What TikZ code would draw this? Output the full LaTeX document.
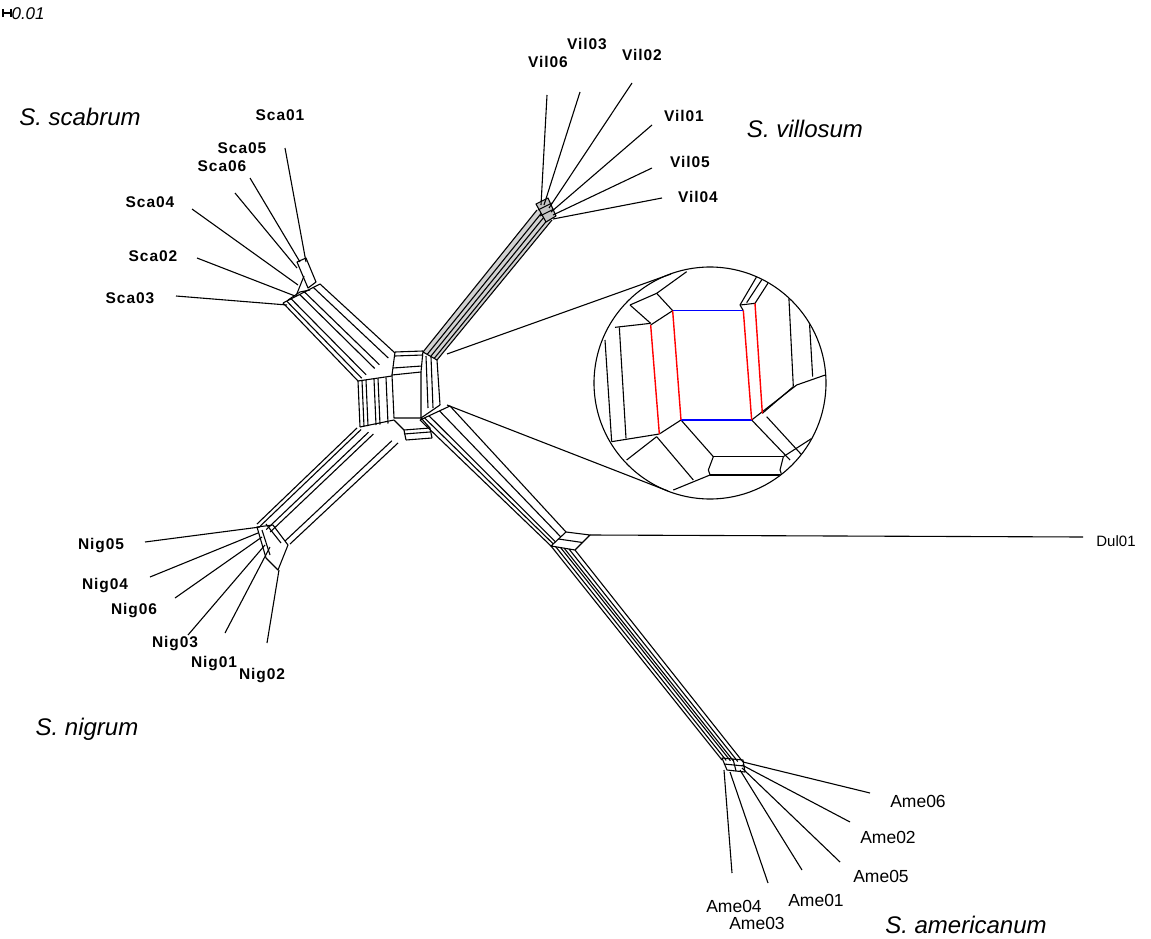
\documentclass[tikz,border=0pt]{standalone}
\usepackage{fontspec}
\setmainfont{Liberation Sans}
\usetikzlibrary{calc}
\newcommand\netband[5]{\foreach \t in {#5} {\draw ($(#1)!\t!(#2)$) -- ($(#3)!\t!(#4)$);}}
\begin{document}
\begin{tikzpicture}[x=1pt,y=-1pt,line width=1.1pt,line join=round,
  lf/.style={font=\fontsize{15.5}{16}\selectfont\bfseries\addfontfeatures{LetterSpace=6}, inner sep=0pt},
  lfa/.style={font=\fontsize{17.5}{18}\selectfont, inner sep=0pt},
  sp/.style={font=\fontsize{24}{26}\selectfont\itshape, inner sep=0pt},
  bluel/.style={draw=blue, line width=1.4pt},
  redl/.style={draw=red, line width=1.4pt},
]
\useasboundingbox (0,0) rectangle (1151,939);

% scale bar
\coordinate (sb1) at (3,13); \coordinate (sb2) at (11,13);
\draw[line width=1.4pt] (sb1) -- (sb2); \draw ($(sb1)+(0,-4)$) -- ($(sb1)+(0,4)$); \draw ($(sb2)+(0,-4)$) -- ($(sb2)+(0,4)$);
\node[font=\fontsize{17}{18}\selectfont\itshape, anchor=west, inner sep=0pt] (scale) at (11,14) {0.01};

% species names
\node[sp] (sscab) at (80,117) {S. scabrum};
\node[sp] (svil) at (805,129) {S. villosum};
\node[sp] (snig) at (87,729) {S. nigrum};
\node[sp] (same) at (966,925) {S. americanum};

% ---------- bands ----------
% scabrum band
\coordinate (scs1) at (283,303); \coordinate (scs2) at (320,284);
\coordinate (sce1) at (358,381); \coordinate (sce2) at (395,353);
\netband{scs1}{scs2}{sce1}{sce2}{0,0.1,0.22,0.45,0.58,0.82,1}
\draw (scs1) -- (scs2);

% villosum band
\coordinate (vis1) at (537,210); \coordinate (vis2) at (552,220);
\coordinate (vie1) at (423,352); \coordinate (vie2) at (437,360);
\fill[gray!35] (vis1) -- (vis2) -- (vie2) -- (vie1) -- cycle;
\netband{vis1}{vis2}{vie1}{vie2}{0,0.3,0.55,0.8,1}

% nigrum band
\coordinate (nis1) at (257,524); \coordinate (nis2) at (290,544);
\coordinate (nie1) at (357,428); \coordinate (nie2) at (398,443);
\netband{nis1}{nis2}{nie1}{nie2}{0,0.1,0.28,0.4,0.85,1}

% americanum band (centre to Dul junction)
\coordinate (am1s1) at (420,420); \coordinate (am1s2) at (450,406);
\coordinate (am1e1) at (551,546); \coordinate (am1e2) at (566,532);
\netband{am1s1}{am1s2}{am1e1}{am1e2}{0,0.15,0.3,0.65,1}
\draw (am1s1) -- (am1s2);

% Dul junction
\coordinate (dj1) at (566,532); \coordinate (dj2) at (590,535); \coordinate (dj3) at (575,550);
\draw (am1e1) -- (dj1) -- (dj2) -- (dj3) -- cycle;
\draw ($(am1e1)!0.5!(dj1)$) -- ($(dj3)!0.5!(dj2)$);

% americanum band (junction to cluster)
\coordinate (am2e1) at (722,760); \coordinate (am2e2) at (743,762);
\netband{am1e1}{dj3}{am2e1}{am2e2}{0,0.2,0.4,0.55,0.75,1}

% ---------- centre box ----------
\draw (392,375) -- (421,372) -- (421,418) -- (394,418) -- cycle;
\draw (395,352) -- (423,351); \draw (395,356) -- (423,355); \draw (393,368) -- (422,366);
\draw (395,352) -- (392,375); \draw (423,351) -- (421,372);
\draw (358,381) -- (392,376); \draw (360,427) -- (394,420);
\foreach \a/\b in {358/381,362/380.5,366/380,374/379,378/378.5,386/377.5}
  {\draw (\a,\b) -- ({\a+2},{\b+46});}
\draw (423,352) -- (437,360);
\draw (426,356) -- (428,408); \draw (431,357) -- (433,408); \draw (437,360) -- (440,405);
\draw (421,418) -- (440,405);
\draw (404,430) -- (430,428); \draw (404,434) -- (430,432); \draw (406,440) -- (432,438);
\draw (404,430) -- (406,440); \draw (430,428) -- (432,438);
\draw (394,420) -- (404,430); \draw (421,418) -- (430,428);

% ---------- clusters ----------
\draw (297,262) -- (306,258) -- (316,282) -- (308,288) -- cycle;
\draw (288,300) -- (300,292) -- (310,290);
\draw (296,296) -- (304,276);
\fill[gray!45] (536,204) -- (548,198) -- (556,216) -- (546,222) -- cycle;
\draw (536,204) -- (548,198) -- (556,216) -- (546,222) -- cycle;
\draw (538,210) -- (552,203); \draw (540,216) -- (554,209);
\draw (257,527) -- (273,525) -- (288,545) -- (278,570) -- (266,558) -- cycle;
\draw (262,530) -- (270,555); \draw (266,524) -- (281,543);
\draw (722,758) -- (743,760) -- (745,772) -- (727,770) -- cycle;
\draw (724,764) -- (744,766); \draw (733,759) -- (736,771);

% ---------- leaves ----------
\foreach \n/\tx/\ty/\cx/\cy/\lx/\ly in {
  Sca01/285/148/306/262/280/115, Sca05/250/178/300/262/242/148,
  Sca06/235/193/297/268/222/166, Sca04/192/209/298/285/150/202,
  Sca02/197/258/295/296/153/256, Sca03/176/296/287/305/130/298,
  Vil06/547/95/541/205/548/62, Vil03/580/92/544/205/587/44,
  Vil02/632/83/549/208/642/55, Vil01/652/125/551/212/684/116,
  Vil05/652/168/553/215/690/162, Vil04/662/198/553/219/698/197,
  Nig05/145/542/260/527/101/546, Nig04/150/577/258/533/105/586,
  Nig06/175/598/262/537/134/611, Nig03/188/635/265/545/175/644,
  Nig01/225/633/270/547/214/664, Nig02/267/643/279/570/262/676}
{
  \coordinate (\n t) at (\tx,\ty); \coordinate (\n c) at (\cx,\cy);
  \draw (\n c) -- (\n t);
  \node[lf] (\n) at (\lx,\ly) {\n};
}
\foreach \n/\tx/\ty/\cx/\cy/\lx/\ly in {
  Ame06/870/793/743/762/918/801, Ame02/850/822/742/765/888/837,
  Ame05/840/862/742/768/881/876, Ame01/802/870/740/770/816/900,
  Ame03/768/883/730/772/757/923, Ame04/732/873/724/770/734/906}
{
  \coordinate (\n t) at (\tx,\ty); \coordinate (\n c) at (\cx,\cy);
  \draw (\n c) -- (\n t);
  \node[lfa] (\n) at (\lx,\ly) {\n};
}
\coordinate (Dul01t) at (1083,537);
\draw (dj2) -- (Dul01t);
\node[font=\fontsize{15}{16}\selectfont, inner sep=0pt] (Dul01) at (1116,541) {Dul01};

% ---------- inset ----------
\node[circle, draw, minimum size=232pt, inner sep=0pt] (inset) at (710,383) {};
\coordinate (p1) at (447,354); \coordinate (p2) at (447,405);
\coordinate (t1) at (671,274); \coordinate (t2) at (668,491);
\draw (p1) -- (t1); \draw (p2) -- (t2);
\begin{scope}
\clip (710,383) circle[radius=115.5];
\begin{scope}[shift={(590,240)}, x=0.33333pt, y=-0.33333pt]
  \draw (182,255) -- (248,212);
  \draw (75,262) -- (182,250);
  \draw (88,262) -- (108,595);
  \draw (45,300) -- (65,605);
  \draw (65,605) -- (208,582);
  \draw (208,582) -- (273,540);
  \draw (120,195) -- (182,250);
  \draw (120,195) -- (200,160) -- (248,212);
  \draw (200,160) -- (290,95);
  \draw (460,212) -- (450,195) -- (500,110);
  \draw (450,195) -- (495,190) -- (540,120);
  \draw (470,188) -- (520,112);
  \draw (595,140) -- (610,440);
  \draw (655,190) -- (668,410);
  \draw (485,540) -- (620,435) -- (720,400);
  \draw (517,520) -- (610,440);
  \draw (485,540) -- (600,660);
  \draw (530,530) -- (640,650);
  \draw (580,650) -- (720,560);
  \draw (610,680) -- (720,620);
  \draw (370,650) -- (580,650);
  \draw (360,705) -- (575,705);
  \draw (370,650) -- (355,690) -- (360,705);
  \draw (580,650) -- (570,690) -- (575,705);
  \draw (273,540) -- (370,650);
  \draw (200,590) -- (310,720);
  \draw (110,660) -- (200,590);
  \draw (250,750) -- (360,705);
  \draw[bluel] (248,212) -- (460,212);
  \draw[bluel] (273,540) -- (485,540);
  \draw[redl] (248,212) -- (273,540);
  \draw[redl] (460,212) -- (485,540);
  \draw[redl] (182,255) -- (208,582);
  \draw[redl] (495,190) -- (517,520);
\end{scope}
\end{scope}
\end{tikzpicture}
\end{document}
